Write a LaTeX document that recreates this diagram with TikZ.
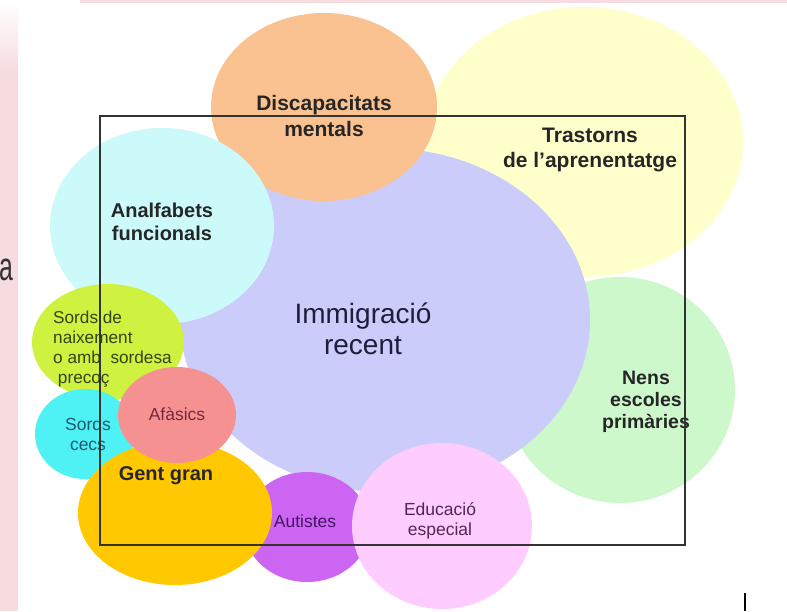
\documentclass[tikz,border=0pt]{standalone}
\usepackage{fontspec}
\setmainfont{Liberation Sans}
\usetikzlibrary{shapes.geometric}
\definecolor{cYellow}{HTML}{FFFFCC}
\definecolor{cOrange}{HTML}{FAC291}
\definecolor{cLav}{HTML}{CCCCFA}
\definecolor{cLCyan}{HTML}{CCF9FA}
\definecolor{cGreen}{HTML}{CCF8CC}
\definecolor{cYGreen}{HTML}{CEF23F}
\definecolor{cCyan}{HTML}{4FF2F4}
\definecolor{cSalmon}{HTML}{F59191}
\definecolor{cGold}{HTML}{FFC800}
\definecolor{cPurple}{HTML}{CC66F2}
\definecolor{cPink}{HTML}{FFCCFF}
\definecolor{cEdge}{HTML}{F7DCDF}
\tikzset{
  blob/.style={shape=ellipse, inner sep=0pt, draw=none},
  lbl/.style={align=center, inner sep=0pt, text=black!85},
  bold/.style={font=\bfseries\fontsize{20}{23}\selectfont},
  reg/.style={font=\fontsize{17.5}{20}\selectfont},
}
\begin{document}
\begin{tikzpicture}[x=1pt,y=-1pt]
\useasboundingbox (0,0) rectangle (787,611);
\fill[white] (0,0) rectangle (787,611);
% page edges
\shade[top color=white, bottom color=cEdge] (0,0) rectangle (18,70);
\fill[cEdge] (0,70) rectangle (18,611);
\fill[cEdge] (80,0) rectangle (787,2.5);
\node[anchor=base east, inner sep=0pt, text=black!80, font=\fontsize{40}{40}\selectfont] (pa) at (13,280) {\scalebox{0.62}[1]{a}};
\draw[line width=2pt] (745,593) coordinate (v1) -- (745,611) coordinate (v2);
% blobs
\node[blob, fill=cGreen, minimum width=230, minimum height=226] (nens) at (620,390) {};
\node[blob, fill=cYellow, minimum width=318, minimum height=270] (tras) at (584,142) {};
\node[blob, fill=cLav, minimum width=410, minimum height=344] (imm) at (385,320) {};
\node[blob, fill=cOrange, minimum width=226, minimum height=188] (disc) at (324,107) {};
\node[blob, fill=cLCyan, minimum width=224, minimum height=196] (anal) at (162,226) {};
\node[blob, fill=cYGreen, minimum width=152, minimum height=116] (snai) at (108,342) {};
\node[blob, fill=cCyan, minimum width=100, minimum height=90] (scec) at (85,434) {};
\node[blob, fill=cPurple, minimum width=126, minimum height=110] (aut) at (307,527) {};
\node[blob, fill=cGold, minimum width=194, minimum height=144] (gent) at (175,513) {};
\node[blob, fill=cSalmon, minimum width=118, minimum height=96] (afa) at (177,415) {};
\node[blob, fill=cPink, minimum width=180, minimum height=166] (edu) at (442,526) {};
% labels
\node[lbl, font=\bfseries\fontsize{21}{26}\selectfont] (tdisc) at (324,116) {Discapacitats\\mentals};
\node[lbl, font=\bfseries\fontsize{21}{25}\selectfont] (ttras) at (590,150) {Trastorns\\de l'aprenentatge};
\node[lbl, bold] (tanal) at (162,222) {Analfabets\\funcionals};
\node[lbl, font=\fontsize{28}{31}\selectfont, text={rgb,255:red,30;green,30;blue,60}] (timm) at (363,329) {Immigració\\recent};
\node[lbl, font=\bfseries\fontsize{19.5}{22}\selectfont] (tnens) at (646,402) {Nens\\escoles\\primàries};
\node[lbl, align=left, anchor=west, font=\fontsize{17.2}{20}\selectfont, text={rgb,255:red,50;green,70;blue,20}] (tsnai) at (53,349) {Sords de\\naixement\\o amb\ \ sordesa\\\ precoç};
\node[lbl, reg, text={rgb,255:red,30;green,90;blue,110}] (tscec) at (88,434) {Sords\\cecs};
\node[lbl, reg, text={rgb,255:red,120;green,40;blue,60}] (tafa) at (177,414) {Afàsics};
\node[lbl, bold] (tgent) at (166,476) {Gent gran};
\node[lbl, reg, text={rgb,255:red,70;green,20;blue,100}] (taut) at (305,521) {Autistes};
\node[lbl, reg, text={rgb,255:red,80;green,40;blue,80}] (tedu) at (440,521) {Educació\\especial};
% frame
\draw[line width=1.4pt, draw=black!80] (100,116) rectangle (685,545);
\end{tikzpicture}
\end{document}
